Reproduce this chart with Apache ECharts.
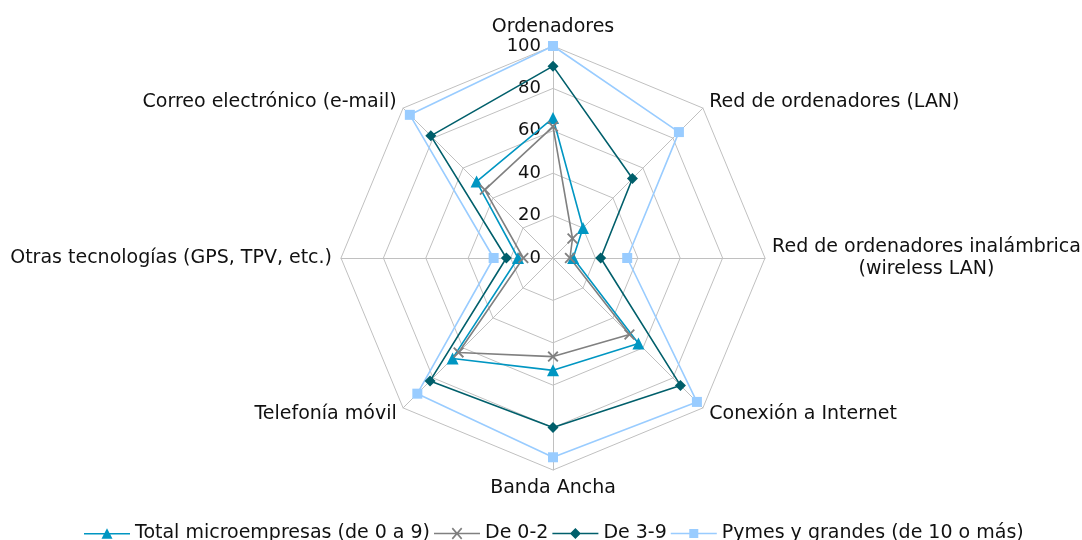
<!DOCTYPE html>
<html>
<head>
<meta charset="utf-8">
<script src="https://cdn.jsdelivr.net/npm/echarts@6/dist/echarts.min.js"></script>
<style>
  html, body { margin: 0; padding: 0; background: #fff; }
  #chart { width: 1082px; height: 540px; }
</style>
</head>
<body>
<div id="chart"></div>
<script>
// indicadores en orden antihorario (ECharts dibuja el radar en sentido antihorario)
const indicators = [
  'Ordenadores',
  'Correo electrónico (e-mail)',
  'Otras tecnologías (GPS, TPV, etc.)',
  'Telefonía móvil',
  'Banda Ancha',
  'Conexión a Internet',
  'Red de ordenadores inalámbrica\n(wireless LAN)',
  'Red de ordenadores (LAN)'
];
const seriesNames = ['Total microempresas (de 0 a 9)', 'De 0-2', 'De 3-9', 'Pymes y grandes (de 10 o más)'];
const totalMicro = [66, 51, 16.5, 67, 53, 57, 9.5, 20];
const de0a2 = [62, 45.5, 14, 63, 46.5, 51, 8, 13];
const de3a9 = [90.5, 81.5, 22, 82, 80, 85, 22.5, 53];
const pymes = [100, 95.5, 28, 90.5, 94, 96, 35, 84];

const colors = ['#0096c2', '#808080', '#005f6b', '#99ccff'];
const XMARK = 'path://M0,1.2L1.2,0L5,3.8L8.8,0L10,1.2L6.2,5L10,8.8L8.8,10L5,6.2L1.2,10L0,8.8L3.8,5Z';
const symbols = ['triangle', XMARK, 'diamond', 'rect'];
const symbolSizes = [12, 11, 11, 10];
// iconos de leyenda: línea + marcador (caja 46x12)
const legendIcons = [
  'path://M0,5.3H46V6.7H0Z M23,0.5L28.5,11H17.5Z',
  'path://M0,5.3H46V6.7H0Z M17.7,1.2L18.9,0L23,4.8L27.1,0L28.3,1.2L24.2,6L28.3,10.8L27.1,12L23,7.2L18.9,12L17.7,10.8L21.8,6Z',
  'path://M0,5.3H46V6.7H0Z M23,0.5L28.5,6L23,11.5L17.5,6Z',
  'path://M0,5.3H46V6.7H0Z M18.5,1.5H27.5V10.5H18.5Z'
];
const allValues = [totalMicro, de0a2, de3a9, pymes];

const chart = echarts.init(document.getElementById('chart'));
const font = 'DejaVu Sans, Verdana, sans-serif';

chart.setOption({
  animation: false,
  color: colors,
  legend: {
    top: 519,
    left: 79,
    itemWidth: 46,
    itemHeight: 12,
    itemGap: 4,
    textStyle: { fontFamily: font, fontSize: 19, color: '#111' },
    data: seriesNames.map((n, i) => ({ name: n, icon: legendIcons[i] }))
  },
  radar: {
    center: [553, 258],
    radius: 212,
    startAngle: 90,
    shape: 'polygon',
    splitNumber: 5,
    axisNameGap: 9,
    axisName: {
      color: '#111',
      fontFamily: font,
      fontSize: 19,
      formatter: function (v) {
        if (v.indexOf('\n') >= 0) {
          return v.split('\n').map(s => '{c|' + s + '}').join('\n');
        }
        return v;
      },
      rich: {
        c: { width: 305, align: 'center', fontFamily: font, fontSize: 19, color: '#111', lineHeight: 22 }
      }
    },
    axisLine: { lineStyle: { color: '#c0c0c0', width: 1 } },
    splitLine: { lineStyle: { color: '#c0c0c0', width: 1 } },
    splitArea: { show: false },
    axisTick: { show: false },
    axisLabel: { show: false },
    indicator: indicators.map((n, i) => {
      const ind = { name: n, min: 0, max: 100 };
      if (i === 0) {
        ind.axisLabel = { show: true, fontFamily: font, fontSize: 18, color: '#111', margin: 12 };
      }
      return ind;
    })
  },
  series: [{
    type: 'radar',
    data: seriesNames.map((n, i) => ({
      name: n,
      value: allValues[i],
      symbol: symbols[i],
      symbolSize: symbolSizes[i],
      lineStyle: { color: colors[i], width: 1.6 },
      itemStyle: { color: colors[i] }
    }))
  }]
});
</script>
</body>
</html>
